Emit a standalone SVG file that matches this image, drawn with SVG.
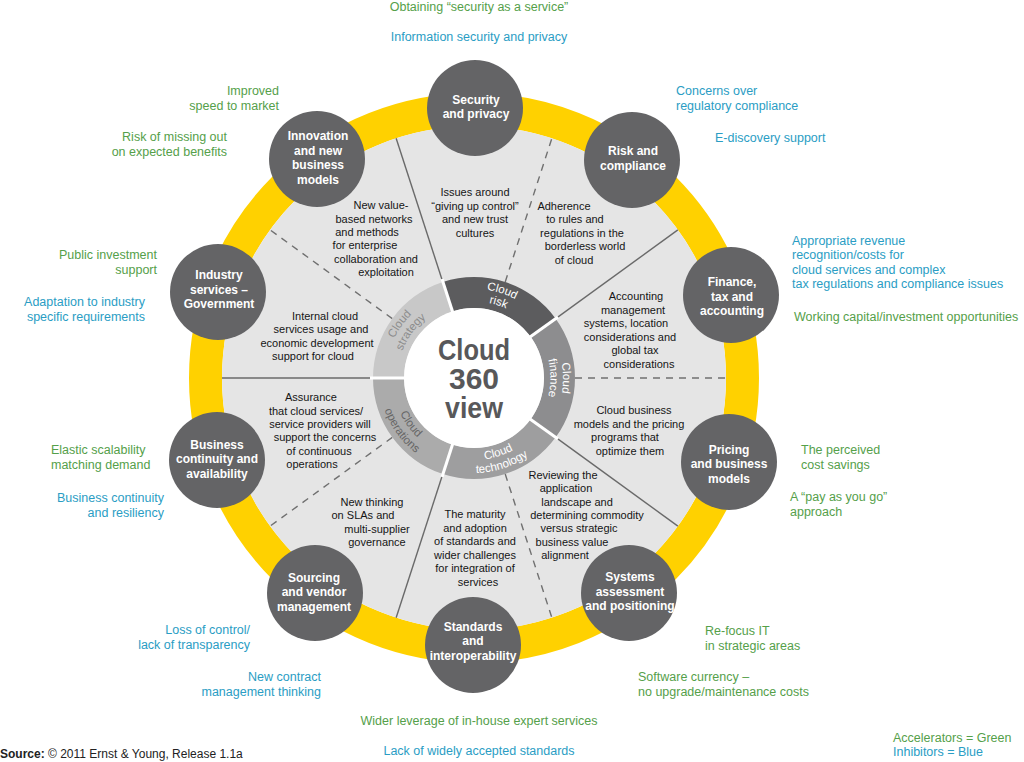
<svg xmlns="http://www.w3.org/2000/svg" width="1024" height="762" viewBox="0 0 1024 762">
<style>
text{font-family:"Liberation Sans",Arial,sans-serif}
.node circle{fill:#646466}
.nl{font-weight:bold;font-size:12px;fill:#fff;text-anchor:middle}
.in{font-size:11px;fill:#151515;text-anchor:middle}
.ol{font-size:12.5px}
.g{fill:#55a04a}
.b{fill:#2a9dc4}
.e{text-anchor:end}
.m{text-anchor:middle}
.solid{stroke:#6a6a6a;stroke-width:1.4;fill:none}
.dash{stroke:#707070;stroke-width:1.4;stroke-dasharray:7 6;fill:none}
.sep{stroke:#fff;stroke-width:3}
.rl{font-size:11.5px;fill:#fff;text-anchor:middle}
.big{font-weight:bold;font-size:30px;fill:#58585a;text-anchor:middle}
</style>
<defs>
<path id="aS1" d="M385,378 A89,89 0 0 1 446.50,293.36"/>
<path id="aS2" d="M397.5,378 A76.5,76.5 0 0 1 450.36,305.24"/>
<path id="aR1" d="M446.50,293.36 A89,89 0 0 1 546.00,325.69"/>
<path id="aR2" d="M450.36,305.24 A76.5,76.5 0 0 1 535.89,333.03"/>
<path id="aF1" d="M546.00,325.69 A89,89 0 0 1 546.00,430.31"/>
<path id="aF2" d="M535.89,333.03 A76.5,76.5 0 0 1 535.89,422.97"/>
<path id="aT1" d="M448.66,455.98 A82,82 0 0 0 540.34,426.20"/>
<path id="aT2" d="M444.64,468.35 A95,95 0 0 0 550.86,433.86"/>
<path id="aO1" d="M392,378 A82,82 0 0 0 448.66,455.98"/>
<path id="aO2" d="M379,378 A95,95 0 0 0 444.64,468.35"/>
</defs>
<rect width="1024" height="762" fill="#fff"/>

<g id="background">
<circle cx="474" cy="378" r="268.5" fill="none" stroke="#ffd100" stroke-width="33"/>
<circle cx="474" cy="378" r="252" fill="#e5e5e5"/>
</g>

<g id="connectors">
<line class="solid" x1="442.79" y1="281.94" x2="396.13" y2="138.33"/>
<line class="solid" x1="555.71" y1="318.63" x2="677.87" y2="229.88"/>
<line class="solid" x1="555.71" y1="437.37" x2="677.87" y2="526.12"/>
<line class="solid" x1="442.79" y1="474.06" x2="396.13" y2="617.67"/>
<line class="solid" x1="373" y1="378" x2="222" y2="378"/>
<line class="dash" x1="505.21" y1="281.94" x2="551.87" y2="138.33"/>
<line class="dash" x1="575" y1="378" x2="726" y2="378"/>
<line class="dash" x1="505.21" y1="474.06" x2="551.87" y2="617.67"/>
<line class="dash" x1="392.29" y1="437.37" x2="270.13" y2="526.12"/>
<line class="dash" x1="392.29" y1="318.63" x2="270.13" y2="229.88"/>
</g>

<g id="cloud-ring">
<path d="M373,378 A101,101 0 0 1 442.79,281.94 L452.37,311.43 A70,70 0 0 0 404,378 Z" fill="#c8c8c8"/>
<path d="M442.79,281.94 A101,101 0 0 1 555.71,318.63 L530.63,336.85 A70,70 0 0 0 452.37,311.43 Z" fill="#5c5c5e"/>
<path d="M555.71,318.63 A101,101 0 0 1 555.71,437.37 L530.63,419.15 A70,70 0 0 0 530.63,336.85 Z" fill="#8d8d8f"/>
<path d="M555.71,437.37 A101,101 0 0 1 442.79,474.06 L452.37,444.57 A70,70 0 0 0 530.63,419.15 Z" fill="#9e9e9f"/>
<path d="M442.79,474.06 A101,101 0 0 1 373,378 L404,378 A70,70 0 0 0 452.37,444.57 Z" fill="#ababab"/>
<line class="sep" x1="453" y1="313" x2="442" y2="279"/>
<line class="sep" x1="530" y1="337" x2="558" y2="317"/>
<line class="sep" x1="530" y1="419" x2="558" y2="439"/>
<line class="sep" x1="453" y1="443" x2="442" y2="477"/>
<line class="sep" x1="406" y1="378" x2="370" y2="378"/>
<circle cx="474" cy="378" r="70" fill="#fff"/>
<text class="rl" style="fill:#8c8c8c"><textPath href="#aS1" startOffset="50%">Cloud</textPath></text>
<text class="rl" style="fill:#8c8c8c"><textPath href="#aS2" startOffset="50%">strategy</textPath></text>
<text class="rl"><textPath href="#aR1" startOffset="50%">Cloud</textPath></text>
<text class="rl"><textPath href="#aR2" startOffset="50%">risk</textPath></text>
<text class="rl"><textPath href="#aF1" startOffset="50%">Cloud</textPath></text>
<text class="rl"><textPath href="#aF2" startOffset="50%">finance</textPath></text>
<text class="rl"><textPath href="#aT1" startOffset="50%">Cloud</textPath></text>
<text class="rl"><textPath href="#aT2" startOffset="50%">technology</textPath></text>
<text class="rl" style="fill:#666"><textPath href="#aO1" startOffset="50%">Cloud</textPath></text>
<text class="rl" style="fill:#666"><textPath href="#aO2" startOffset="50%">operations</textPath></text>
</g>

<g id="center">
<text class="big" x="474" y="360" textLength="72" lengthAdjust="spacingAndGlyphs">Cloud</text>
<text class="big" x="474" y="389">360</text>
<text class="big" x="474" y="418" textLength="58" lengthAdjust="spacingAndGlyphs">view</text>
</g>

<g id="inner-texts">
<text class="in"><tspan x="475" y="196">Issues around</tspan><tspan x="475" y="209.5">“giving up control”</tspan><tspan x="475" y="223">and new trust</tspan><tspan x="475" y="236.5">cultures</tspan></text>
<text class="in"><tspan x="564" y="209.5">Adherence</tspan><tspan x="575" y="223">to rules and</tspan><tspan x="582" y="236.5">regulations in the</tspan><tspan x="585" y="250">borderless world</tspan><tspan x="574" y="263.5">of cloud</tspan></text>
<text class="in"><tspan x="636" y="300">Accounting</tspan><tspan x="633" y="313.5">management</tspan><tspan x="626" y="327">systems, location</tspan><tspan x="630" y="340.5">considerations and</tspan><tspan x="635" y="354">global tax</tspan><tspan x="639" y="367.5">considerations</tspan></text>
<text class="in"><tspan x="634" y="414">Cloud business</tspan><tspan x="629" y="427.5">models and the pricing</tspan><tspan x="625" y="441">programs that</tspan><tspan x="630" y="454.5">optimize them</tspan></text>
<text class="in"><tspan x="563" y="479">Reviewing the</tspan><tspan x="566" y="492">application</tspan><tspan x="577" y="505.5">landscape and</tspan><tspan x="587" y="519">determining commodity</tspan><tspan x="579" y="532">versus strategic</tspan><tspan x="572" y="545.5">business value</tspan><tspan x="565" y="559">alignment</tspan></text>
<text class="in"><tspan x="475" y="518">The maturity</tspan><tspan x="475" y="531.5">and adoption</tspan><tspan x="475" y="545">of standards and</tspan><tspan x="475" y="558.5">wider challenges</tspan><tspan x="475" y="572">for integration of</tspan><tspan x="478" y="585.5">services</tspan></text>
<text class="in"><tspan x="372" y="505.5">New thinking</tspan><tspan x="363" y="519">on SLAs and</tspan><tspan x="377" y="532.5">multi-supplier</tspan><tspan x="377" y="546">governance</tspan></text>
<text class="in"><tspan x="311" y="401">Assurance</tspan><tspan x="316" y="414.5">that cloud services/</tspan><tspan x="320" y="428">service providers will</tspan><tspan x="325" y="441">support the concerns</tspan><tspan x="319" y="454.5">of continuous</tspan><tspan x="312" y="468">operations</tspan></text>
<text class="in"><tspan x="325" y="320">Internal cloud</tspan><tspan x="321" y="333">services usage and</tspan><tspan x="317" y="346.5">economic development</tspan><tspan x="313" y="360">support for cloud</tspan></text>
<text class="in"><tspan x="381" y="209">New value-</tspan><tspan x="374" y="222.5">based networks</tspan><tspan x="367" y="236">and methods</tspan><tspan x="365" y="249">for enterprise</tspan><tspan x="376" y="262.5">collaboration and</tspan><tspan x="386" y="276">exploitation</tspan></text>
</g>

<g id="node-security" class="node"><circle cx="475" cy="108" r="48"/><text class="nl"><tspan x="476" y="103.5">Security</tspan><tspan x="476" y="118">and privacy</tspan></text></g>
<g id="node-risk" class="node"><circle cx="632" cy="160" r="48"/><text class="nl"><tspan x="633" y="154.5">Risk and</tspan><tspan x="633" y="169.5">compliance</tspan></text></g>
<g id="node-finance" class="node"><circle cx="731" cy="295" r="48"/><text class="nl"><tspan x="732" y="285.5">Finance,</tspan><tspan x="732" y="300.5">tax and</tspan><tspan x="732" y="314.5">accounting</tspan></text></g>
<g id="node-pricing" class="node"><circle cx="729" cy="462" r="48"/><text class="nl"><tspan x="729" y="453.5">Pricing</tspan><tspan x="729" y="467.5">and business</tspan><tspan x="729" y="482.5">models</tspan></text></g>
<g id="node-systems" class="node"><circle cx="629" cy="593" r="48"/><text class="nl"><tspan x="630" y="580.5">Systems</tspan><tspan x="630" y="595.5">assessment</tspan><tspan x="630" y="609.5">and positioning</tspan></text></g>
<g id="node-standards" class="node"><circle cx="473" cy="645" r="48"/><text class="nl"><tspan x="473" y="630.5">Standards</tspan><tspan x="473" y="644.5">and</tspan><tspan x="473" y="659.5">interoperability</tspan></text></g>
<g id="node-sourcing" class="node"><circle cx="315" cy="593" r="48"/><text class="nl"><tspan x="314" y="581.5">Sourcing</tspan><tspan x="314" y="595.5">and vendor</tspan><tspan x="314" y="610.5">management</tspan></text></g>
<g id="node-continuity" class="node"><circle cx="217" cy="460" r="48"/><text class="nl"><tspan x="217" y="448.5">Business</tspan><tspan x="217" y="462.5">continuity and</tspan><tspan x="217" y="477.5">availability</tspan></text></g>
<g id="node-industry" class="node"><circle cx="218" cy="292" r="48"/><text class="nl"><tspan x="219" y="278.5">Industry</tspan><tspan x="219" y="293.5">services –</tspan><tspan x="219" y="307.5">Government</tspan></text></g>
<g id="node-innovation" class="node"><circle cx="317" cy="159" r="48"/><text class="nl"><tspan x="318" y="139.5">Innovation</tspan><tspan x="318" y="154.5">and new</tspan><tspan x="318" y="168.5">business</tspan><tspan x="318" y="183.5">models</tspan></text></g>

<g id="outer-labels">
<text class="ol g m" x="479" y="10.5">Obtaining “security as a service”</text>
<text class="ol b m" x="479" y="40.5">Information security and privacy</text>
<text class="ol b"><tspan x="676" y="94.5">Concerns over</tspan><tspan x="676" y="109.5">regulatory compliance</tspan></text>
<text class="ol b" x="715" y="141.5">E-discovery support</text>
<text class="ol b"><tspan x="792" y="244.5">Appropriate revenue</tspan><tspan x="792" y="258.5">recognition/costs for</tspan><tspan x="792" y="273.5">cloud services and complex</tspan><tspan x="792" y="287.5">tax regulations and compliance issues</tspan></text>
<text class="ol g" x="794" y="320.5">Working capital/investment opportunities</text>
<text class="ol g"><tspan x="801" y="453.5">The perceived</tspan><tspan x="801" y="468.5">cost savings</tspan></text>
<text class="ol g"><tspan x="790" y="500.5">A “pay as you go”</tspan><tspan x="790" y="515.5">approach</tspan></text>
<text class="ol g"><tspan x="705" y="634.5">Re-focus IT</tspan><tspan x="705" y="649.5">in strategic areas</tspan></text>
<text class="ol g"><tspan x="638" y="680.5">Software currency –</tspan><tspan x="638" y="695.5">no upgrade/maintenance costs</tspan></text>
<text class="ol g m" x="479" y="724.5">Wider leverage of in-house expert services</text>
<text class="ol b m" x="479" y="754.5">Lack of widely accepted standards</text>
<text class="ol b e"><tspan x="250" y="633.5">Loss of control/</tspan><tspan x="250" y="648.5">lack of transparency</tspan></text>
<text class="ol b e"><tspan x="321" y="680.5">New contract</tspan><tspan x="321" y="695.5">management thinking</tspan></text>
<text class="ol g"><tspan x="51" y="453.5">Elastic scalability</tspan><tspan x="51" y="468.5">matching demand</tspan></text>
<text class="ol b e"><tspan x="164" y="501.5">Business continuity</tspan><tspan x="164" y="516.5">and resiliency</tspan></text>
<text class="ol g e"><tspan x="157" y="258.5">Public investment</tspan><tspan x="157" y="273.5">support</tspan></text>
<text class="ol b e"><tspan x="145" y="305.5">Adaptation to industry</tspan><tspan x="145" y="320.5">specific requirements</tspan></text>
<text class="ol g e"><tspan x="279" y="94.5">Improved</tspan><tspan x="279" y="109.5">speed to market</tspan></text>
<text class="ol g e"><tspan x="227" y="140.5">Risk of missing out</tspan><tspan x="227" y="155.5">on expected benefits</tspan></text>
</g>

<g id="legend">
<text class="ol g" x="893" y="741.5">Accelerators = Green</text>
<text class="ol b" x="893" y="755.5">Inhibitors = Blue</text>
<text x="0" y="758" style="font-size:12px;fill:#222"><tspan font-weight="bold">Source:</tspan> © 2011 Ernst &amp; Young, Release 1.1a</text>
</g>
</svg>
